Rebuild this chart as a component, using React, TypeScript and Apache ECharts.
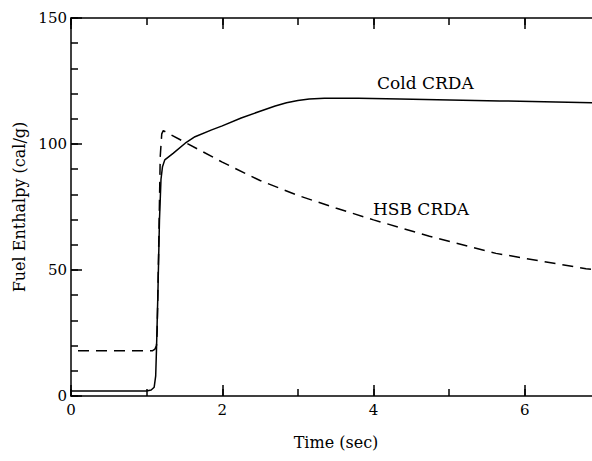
import React, { useEffect, useRef } from "react";
import * as echarts from "echarts";

const coldTime = [0, 1.0, 1.06, 1.1, 1.12, 1.13, 1.15, 1.17, 1.19, 1.21, 1.24, 1.35, 1.51, 1.64, 1.86, 2.0, 2.25, 2.5, 2.7, 2.85, 3.0, 3.15, 3.35, 3.8, 4.35, 5.67, 7.0];
const coldValues = [2, 2, 2.4, 3.5, 8, 18, 42, 70, 86, 91, 93.7, 96.3, 100.3, 102.9, 105.6, 107.2, 110.3, 113.0, 115.1, 116.4, 117.3, 117.9, 118.2, 118.2, 117.9, 117.1, 116.3];

const hsbTime = [0, 1.08, 1.11, 1.13, 1.14, 1.16, 1.18, 1.2, 1.22, 1.5, 2.0, 2.5, 3.0, 3.5, 4.0, 4.74, 5.62, 6.81, 7.0];
const hsbValues = [18, 18, 18.6, 20, 26, 60, 95, 104, 105.3, 100.8, 92.8, 85.5, 79.6, 74.6, 69.9, 63.4, 56.6, 50.5, 49.8];

const xTickLabels = ["0", "2", "4", "6"];
const yTickLabels = ["0", "50", "100", "150"];

const FONT = "DejaVu Serif";

export default function App() {
  const ref = useRef<HTMLDivElement>(null);
  useEffect(() => {
    if (!ref.current) return;
    const chart = echarts.init(ref.current, null, { renderer: "svg" });
    const line = { show: true, lineStyle: { color: "#000", width: 1.5 } };
    const noLine = { show: false };
    const tickMinor = { show: true, inside: true, length: 7, lineStyle: { color: "#000", width: 1.5 } };
    const tickMajor = { show: true, inside: true, length: 11, lineStyle: { color: "#000", width: 1.5 } };
    const xBase = { type: "value", min: 0, max: 8, splitLine: { show: false } };
    const yBase = { type: "value", min: 0, max: 150, splitLine: { show: false } };
    chart.setOption({
      animation: false,
      backgroundColor: "#fff",
      grid: { left: 71, top: 18, height: 378, width: 605, containLabel: false, outerBoundsMode: "none" },
      xAxis: [
        {
          ...xBase, position: "bottom", interval: 1, axisLine: line, axisTick: tickMinor,
          axisLabel: {
            margin: 6, color: "#000", fontFamily: FONT, fontSize: 15,
            formatter: (v: number) => (xTickLabels.includes(String(v)) ? String(v) : ""),
          },
        },
        { ...xBase, position: "bottom", interval: 2, axisLine: noLine, axisTick: tickMajor, axisLabel: { show: false } },
        { ...xBase, position: "top", interval: 1, axisLine: line, axisTick: tickMinor, axisLabel: { show: false } },
        { ...xBase, position: "top", interval: 2, axisLine: noLine, axisTick: tickMajor, axisLabel: { show: false } },
      ],
      yAxis: [
        {
          ...yBase, position: "left", interval: 10, axisLine: line, axisTick: tickMinor,
          name: "Fuel Enthalpy (cal/g)", nameLocation: "middle", nameGap: 42,
          nameTextStyle: { color: "#000", fontFamily: FONT, fontSize: 16 },
          axisLabel: {
            margin: 4, color: "#000", fontFamily: FONT, fontSize: 15,
            formatter: (v: number) => (yTickLabels.includes(String(v)) ? String(v) : ""),
          },
        },
        { ...yBase, position: "left", interval: 50, axisLine: noLine, axisTick: tickMajor, axisLabel: { show: false } },
      ],
      graphic: [
        { type: "text", x: 336, y: 434, style: { text: "Time (sec)", fill: "#000", font: `16px '${FONT}'`, textAlign: "center" } },
        { type: "text", x: 377, y: 74, style: { text: "Cold CRDA", fill: "#000", font: `17px '${FONT}'` } },
        { type: "text", x: 373, y: 200, style: { text: "HSB CRDA", fill: "#000", font: `17px '${FONT}'` } },
      ],
      series: [
        {
          name: "Cold CRDA", type: "line", showSymbol: false, smooth: false,
          lineStyle: { color: "#000", width: 1.5, type: "solid" },
          data: coldTime.map((t, i) => [t, coldValues[i]]),
        },
        {
          name: "HSB CRDA", type: "line", showSymbol: false, smooth: false,
          lineStyle: { color: "#000", width: 1.5, type: [11, 7], dashOffset: 11 },
          data: hsbTime.map((t, i) => [t, hsbValues[i]]),
        },
      ],
    });
    return () => chart.dispose();
  }, []);
  return (
    <div style={{ position: "fixed", left: 0, top: 0, width: 592, height: 461, overflow: "hidden" }}>
      <div ref={ref} style={{ width: 592, height: 461 }} />
    </div>
  );
}
